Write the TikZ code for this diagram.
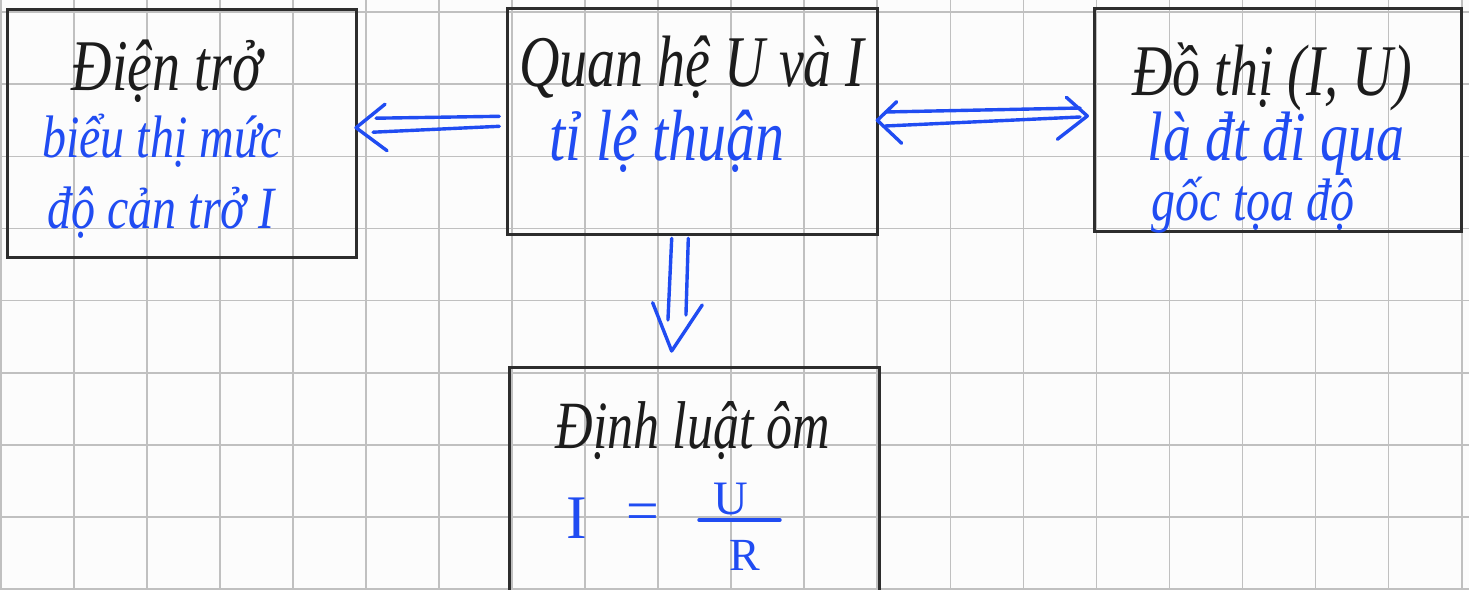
\documentclass[tikz,border=0pt]{standalone}
\usepackage{fontspec}
\usepackage{graphicx}
\setmainfont{Liberation Serif}
\usetikzlibrary{calc}
\definecolor{bgc}{RGB}{252,252,252}
\definecolor{gridc}{RGB}{192,192,192}
\definecolor{ink}{RGB}{28,28,28}
\definecolor{blueink}{RGB}{32,76,242}
\definecolor{boxc}{RGB}{45,45,45}
\newcommand{\tallT}[1]{\scalebox{1}[1.3]{#1}}
\newcommand{\tallN}[1]{\scalebox{1}[1.25]{#1}}
\tikzset{
  box/.style={draw=boxc,line width=3pt,inner sep=0pt,outer sep=0pt},
  ttl/.style={text=ink,font=\fontsize{#1}{#1}\selectfont\itshape,inner sep=0pt,anchor=base},
  ttl/.default=56,
  note/.style={text=blueink,font=\fontsize{#1}{#1}\selectfont\itshape,inner sep=0pt,anchor=base},
  note/.default=48,
  formula/.style={text=blueink,font=\fontsize{#1}{#1}\selectfont,inner sep=0pt,anchor=base},
  formula/.default=50,
  arr/.style={draw=blueink,line width=3.4pt,line cap=round,line join=round},
  gridline/.style={draw=gridc,line width=1.8pt}
}
\begin{document}
\begin{tikzpicture}[x=1pt,y=-1pt]
\useasboundingbox (0,0) rectangle (1469,589);
\fill[bgc] (0,0) rectangle (1469,589);
\clip (0,0) rectangle (1469,589);
% grid
\foreach \i in {0,...,20} \draw[gridline] ({1+73.03*\i},0) -- ({1+73.03*\i},589);
\foreach \j in {0,...,8} \draw[gridline] (0,{12.3+72.06*\j}) -- (1469,{12.3+72.06*\j});
% boxes
\node[box,minimum width=348.7pt,minimum height=247.7pt] (b1) at (181.7,133.2) {};
\node[box,minimum width=370pt,minimum height=226pt] (b2) at (692.3,121.3) {};
\node[box,minimum width=367.7pt,minimum height=223.4pt] (b3) at (1277.9,120) {};
\node[box,minimum width=369.7pt,minimum height=332.7pt] (b4) at (694.65,533.65) {};
% texts
\node[ttl] (t1a) at (167,90) {\tallT{Điện trở}};
\node[note] (t1b) at (162,157) {\tallN{biểu thị mức}};
\node[note] (t1c) at (161,228) {\tallN{độ cản trở I}};
\node[ttl] (t2a) at (692,86) {\tallT{Quan hệ U và I}};
\node[note=58] (t2b) at (667,160) {\tallN{tỉ lệ thuận}};
\node[ttl] (t3a) at (1272,95) {\tallT{Đồ thị (I, U)}};
\node[note=56] (t3b) at (1276,160) {\tallN{là đt đi qua}};
\node[note] (t3c) at (1253,220) {\tallN{gốc tọa độ}};
\node[ttl=52] (t4a) at (693,448) {\tallT{Định luật ôm}};
% formula
\node[formula=62] (fI) at (577,538) {I};
\node[formula=58] (feq) at (643,530) {=};
\node[formula=48] (fU) at (731,514) {U};
\node[formula=46] (fR) at (745,570) {R};
\coordinate (barL) at (699,520);
\coordinate (barR) at (780,520);
\draw[arr] (barL) -- (barR);
% arrow b2 -> b1
\draw[arr] ($(b2.west)+(-8,-5)$) -- ($(b1.east)+(20,-15)$);
\draw[arr] ($(b2.west)+(-8,5)$) -- ($(b1.east)+(17,-1)$);
\draw[arr] ($(b1.east)+(29,-29)$) -- ($(b1.east)+(0,-5.5)$) -- ($(b1.east)+(31,17.5)$);
% arrow b2 <-> b3
\draw[arr] ($(b2.east)+(8,-9.3)$) -- ($(b3.west)+(-14,-12)$);
\draw[arr] ($(b2.east)+(8,4.7)$) -- ($(b3.west)+(-14,-3)$);
\draw[arr] ($(b2.east)+(19.4,-19.6)$) -- ($(b2.east)+(0,-1)$) -- ($(b2.east)+(24.4,22)$);
\draw[arr] ($(b3.west)+(-27.7,-22.7)$) -- ($(b3.west)+(-6.7,-4)$) -- ($(b3.west)+(-36.7,19.3)$);
% arrow b2 -> b4
\draw[arr] ($(b2.south)+(-20.6,4)$) -- ($(b4.north)+(-26.7,-47.3)$);
\draw[arr] ($(b2.south)+(-4,4)$) -- ($(b4.north)+(-8.7,-52.3)$);
\draw[arr] ($(b4.north)+(-42,-64.6)$) -- ($(b4.north)+(-23,-16.3)$) -- ($(b4.north)+(7.6,-62.3)$);
\end{tikzpicture}
\end{document}
